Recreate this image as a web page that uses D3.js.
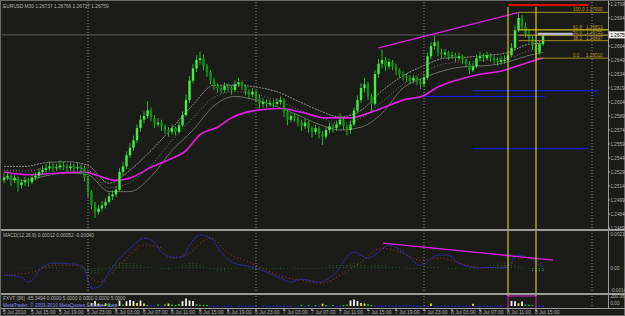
<!DOCTYPE html>
<html>
<head>
<meta charset="utf-8">
<script src="https://cdn.jsdelivr.net/npm/d3@7"></script>
<style>
  html, body { margin: 0; padding: 0; background: #1b1b17; }
  svg { display: block; }
  text { font-family: "Liberation Sans", Arial, sans-serif; }
</style>
</head>
<body>
<svg id="chart" width="625" height="316"></svg>
<script>
// EURUSD M30, 5-8 Jul 2010 (MetaTrader style chart)

const firstOpen = 1.2520;
const barCloses = [
  1.2523,1.2525,1.2520,1.2523,1.2515,1.2518,1.2520,1.2518,1.2523,1.2525,
  1.2529,1.2531,1.2533,1.2535,1.2533,1.2534,1.2536,1.2535,1.2533,1.2535,
  1.2533,1.2534,1.2533,1.2523,1.2508,1.2494,1.2486,1.2490,1.2493,1.2497,
  1.2503,1.2505,1.2510,1.2529,1.2535,1.2547,1.2555,1.2563,1.2576,1.2585,
  1.2589,1.2595,1.2587,1.2580,1.2582,1.2578,1.2574,1.2572,1.2576,1.2572,
  1.2579,1.2590,1.2606,1.2627,1.2640,1.2649,1.2651,1.2642,1.2636,1.2627,
  1.2621,1.2619,1.2617,1.2621,1.2619,1.2617,1.2623,1.2625,1.2621,1.2615,
  1.2612,1.2615,1.2608,1.2602,1.2604,1.2602,1.2603,1.2602,1.2604,1.2606,
  1.2593,1.2585,1.2589,1.2587,1.2582,1.2578,1.2582,1.2576,1.2572,1.2576,
  1.2570,1.2567,1.2574,1.2578,1.2576,1.2580,1.2585,1.2578,1.2574,1.2580,
  1.2595,1.2606,1.2619,1.2623,1.2610,1.2602,1.2634,1.2645,1.2649,1.2642,
  1.2647,1.2642,1.2638,1.2634,1.2631,1.2630,1.2627,1.2630,1.2626,1.2623,
  1.2630,1.2653,1.2664,1.2668,1.2657,1.2655,1.2657,1.2653,1.2654,1.2651,
  1.2653,1.2649,1.2645,1.2638,1.2642,1.2651,1.2653,1.2651,1.2654,1.2651,
  1.2649,1.2647,1.2649,1.2649,1.2654,1.2662,1.2681,1.2694,1.2685,1.2677,
  1.2672,1.2664,1.2657,1.2666,1.2676
];
const barHighs = [
  1.2528,1.2529,1.2527,1.2526,1.2524,1.2521,1.2524,1.2523,1.2526,1.2529,
  1.2533,1.2536,1.2538,1.2541,1.2539,1.2538,1.2542,1.2540,1.2538,1.2539,
  1.2538,1.2539,1.2537,1.2536,1.2525,1.2510,1.2497,1.2494,1.2498,1.2501,
  1.2507,1.2509,1.2514,1.2533,1.2540,1.2551,1.2560,1.2568,1.2580,1.2590,
  1.2594,1.2605,1.2598,1.2590,1.2587,1.2585,1.2580,1.2577,1.2580,1.2578,
  1.2583,1.2594,1.2612,1.2632,1.2645,1.2654,1.2658,1.2655,1.2645,1.2638,
  1.2630,1.2624,1.2622,1.2625,1.2624,1.2622,1.2627,1.2630,1.2627,1.2623,
  1.2618,1.2619,1.2617,1.2612,1.2608,1.2607,1.2607,1.2606,1.2608,1.2610,
  1.2608,1.2596,1.2593,1.2592,1.2590,1.2585,1.2586,1.2584,1.2578,1.2580,
  1.2578,1.2573,1.2577,1.2582,1.2581,1.2584,1.2592,1.2587,1.2580,1.2584,
  1.2598,1.2611,1.2624,1.2630,1.2626,1.2613,1.2638,1.2650,1.2660,1.2652,
  1.2651,1.2649,1.2645,1.2640,1.2637,1.2635,1.2633,1.2633,1.2632,1.2629,
  1.2634,1.2657,1.2668,1.2675,1.2670,1.2661,1.2661,1.2659,1.2658,1.2657,
  1.2657,1.2655,1.2651,1.2647,1.2646,1.2655,1.2658,1.2656,1.2658,1.2656,
  1.2654,1.2652,1.2653,1.2654,1.2658,1.2667,1.2686,1.2700,1.2697,1.2689,
  1.2682,1.2675,1.2667,1.2670,1.2678
];
const barLows = [
  1.2517,1.2520,1.2514,1.2517,1.2508,1.2511,1.2514,1.2513,1.2516,1.2520,
  1.2522,1.2526,1.2528,1.2530,1.2529,1.2530,1.2531,1.2531,1.2529,1.2530,
  1.2529,1.2530,1.2528,1.2519,1.2502,1.2489,1.2480,1.2483,1.2487,1.2490,
  1.2495,1.2499,1.2502,1.2508,1.2525,1.2532,1.2544,1.2552,1.2560,1.2572,
  1.2581,1.2586,1.2583,1.2576,1.2577,1.2573,1.2570,1.2567,1.2569,1.2568,
  1.2570,1.2577,1.2588,1.2603,1.2624,1.2636,1.2644,1.2638,1.2631,1.2623,
  1.2617,1.2614,1.2613,1.2614,1.2615,1.2612,1.2615,1.2620,1.2617,1.2611,
  1.2607,1.2609,1.2604,1.2597,1.2598,1.2598,1.2599,1.2598,1.2599,1.2601,
  1.2588,1.2579,1.2582,1.2583,1.2578,1.2573,1.2575,1.2571,1.2566,1.2569,
  1.2565,1.2558,1.2564,1.2571,1.2571,1.2573,1.2578,1.2574,1.2568,1.2570,
  1.2578,1.2592,1.2603,1.2614,1.2606,1.2594,1.2600,1.2630,1.2640,1.2637,
  1.2639,1.2638,1.2633,1.2630,1.2627,1.2626,1.2623,1.2624,1.2622,1.2618,
  1.2620,1.2628,1.2650,1.2660,1.2653,1.2651,1.2652,1.2649,1.2650,1.2647,
  1.2648,1.2645,1.2641,1.2634,1.2636,1.2640,1.2648,1.2647,1.2649,1.2647,
  1.2645,1.2643,1.2644,1.2645,1.2647,1.2652,1.2660,1.2679,1.2681,1.2673,
  1.2668,1.2660,1.2651,1.2654,1.2664
];

// moving averages read at sample bars
const maBars      = [0,6,12,18,24,30,36,42,48,54,60,66,72,78,84,90,96,102,108,114,120,126,132,138,144,150,154];
const bandUpper   = [1.2535,1.2535,1.2539,1.2540,1.2536,1.2517,1.2531,1.2552,1.2576,1.2601,1.2622,1.2622,1.2620,1.2615,1.2605,1.2595,1.2588,1.2595,1.2616,1.2632,1.2643,1.2651,1.2652,1.2654,1.2657,1.2666,1.2667];
const bandMiddle  = [1.2531,1.2530,1.2533,1.2535,1.2531,1.2512,1.2518,1.2536,1.2563,1.2587,1.2609,1.2615,1.2612,1.2606,1.2596,1.2588,1.2581,1.2587,1.2604,1.2623,1.2636,1.2645,1.2647,1.2649,1.2651,1.2659,1.2662];
const bandLower   = [1.2523,1.2520,1.2525,1.2528,1.2526,1.2508,1.2508,1.2524,1.2552,1.2574,1.2600,1.2610,1.2606,1.2599,1.2590,1.2580,1.2574,1.2577,1.2592,1.2619,1.2630,1.2638,1.2642,1.2643,1.2647,1.2654,1.2657];
const slowMaBars  = [0,7,16,23,27,32,37,42,47,52,56,61,65,72,79,85,92,99,104,109,114,120,124,129,135,143,147,152,154];
const slowMa      = [1.2529,1.2526,1.2528,1.2529,1.2525,1.2520,1.2524,1.2534,1.2542,1.2552,1.2569,1.2577,1.2587,1.2595,1.2597,1.2593,1.2587,1.2587,1.2592,1.2599,1.2606,1.2611,1.2620,1.2627,1.2633,1.2638,1.2643,1.2649,1.2651];

// MACD(12,26,9) read at sample bars
const macdMainBars = [0,5,7,11,14,20,23,24,25,27,30,34,37,40,43,45,48,51,53,56,59,62,65,71,75,79,82,85,90,94,100,104,107,110,114,119,124,127,130,136,139,143,147,150,153,154];
const macdMain     = [-0.00045,-0.00058,-0.00090,0.00006,0.00032,0.00026,0.00000,-0.00077,-0.00129,-0.00122,-0.00026,0.00084,0.00148,0.00193,0.00167,0.00103,0.00071,0.00071,0.00148,0.00213,0.00193,0.00103,0.00039,0.00006,-0.00026,-0.00064,-0.00090,-0.00071,-0.00090,-0.00045,0.00103,0.00064,0.00103,0.00148,0.00103,0.00019,0.00084,0.00084,0.00032,0.00000,0.00006,0.00000,0.00084,0.00064,0.00019,0.00013];
const macdSigBars  = [0,8,14,21,27,33,40,45,48,52,59,64,70,75,81,85,91,96,102,108,113,119,125,132,138,144,149,154];
const macdSignal   = [-0.00045,-0.00026,0.00019,0.00019,-0.00090,0.00019,0.00148,0.00129,0.00064,0.00084,0.00193,0.00097,0.00039,-0.00013,-0.00064,-0.00077,-0.00097,-0.00045,0.00039,0.00129,0.00103,0.00052,0.00064,0.00019,0.00000,0.00019,0.00071,0.00019];
// histogram, in units of 0.00001
const macdHist = [
  0,1,1,-2,-3,-2,-2,-4,-3,-1, 3,6,8,9,8,6,4,3,2,1,
  0,-2,-5,-12,-25,-35,-38,-30,-22,-10, 6,18,26,32,36,38,35,30,24,18,
  14,10,6,2,-2,-6,-8,-6,-2,2, 8,18,28,34,38,34,26,16,6,-4,
  -12,-18,-20,-18,-14,-10,-6,-3,-2,-4, -6,-8,-8,-10,-8,-6,-4,-6,-8,-6,
  -4,-3,-2,-4,-6,-4,-2,-4,-6,-4, -2,4,12,20,26,26,22,18,24,30,
  34,32,26,18,14,16,22,26,24,18, 14,10,6,4,0,-4,-6,-8,-6,-4,
  2,8,12,10,6,2,-2,-4,-6,-6, -4,-6,-8,-6,-4,-2,0,4,10,18,
  24,28,30,32,34,30,24,16,8,0, -8,-18,-26,-24,-20
];

// FXVT pane values per bar
const fxvValues = [
  0,0,0,0,0,0,0,0,0,0, 0,0,0,0,0,0,0,0,0,0,
  0,0,0,0,0,60,100,50,30,55, 40,20,25,110,30,95,120,100,60,110,
  50,20,10,15,30,10,35,50,30,20, 40,95,150,110,100,35,25,22,20,12,
  8,8,0,8,8,8,0,8,8,8, 8,8,8,0,8,8,8,8,8,8,
  8,8,8,0,8,20,8,22,8,20, 8,45,20,8,22,8,8,20,30,110,
  130,100,60,50,35,20,12,8,8,8, 8,8,12,12,14,12,14,12,12,8,
  8,8,50,10,8,8,8,8,8,8, 8,8,8,8,45,8,8,8,8,8,
  8,8,8,0,12,100,95,55,90,30, 25,22,8,8,8
];

const timeLabels = ["5 Jul 2010","5 Jul 15:00","5 Jul 19:00","5 Jul 23:00","6 Jul 03:00","6 Jul 07:00","6 Jul 11:00","6 Jul 15:00","6 Jul 19:00","6 Jul 23:00","7 Jul 03:00","7 Jul 07:00","7 Jul 11:00","7 Jul 15:00","7 Jul 19:00","7 Jul 23:00","8 Jul 03:00","8 Jul 07:00","8 Jul 11:00","8 Jul 15:00"];
const priceTicks = [1.27090,1.26940,1.26790,1.26640,1.26490,1.26340,1.26190,1.26040,1.25890,1.25740,1.25590,1.25440,1.25290,1.25140,1.24990,1.24840,1.24690];
const daySeparators = [24, 72, 120, 168];

// drawn objects
const bidPrice = 1.26759;
const fibHigh = { bar: 147, price: 1.2700 };
const fibLow  = { bar: 152, price: 1.2651 };
const fibLevels = [100.0, 61.8, 50.0, 38.2, 0.0];
const channelLine = [[107, 1.2662], [147, 1.2700]];
const macdTrend = [[108.3, 0.00161], [156.9, 0.00052]];
const blueLines = [[134, 170, 1.2616], [120, 154.6, 1.2610], [134, 167, 1.2554]];
const redLine = [144, 167, 1.2708];
const vLines = [144, 152];

// ---- layout ----
const axisX = 608;
const svg = d3.select('#chart');
svg.append('rect').attr('width', 625).attr('height', 316).attr('fill', '#1b1b17');

const x = d3.scaleLinear().domain([0, 1]).range([4, 7.5]);
const yPrice = d3.scaleLinear().domain([1.2469, 1.2709]).range([228, 4]);
const yMacd = d3.scaleLinear().domain([-0.0014, 0.00219]).range([290, 234]);
const yFxv = d3.scaleLinear().domain([0, 200]).range([306, 296]);

const defs = svg.append('defs');
function clip(id, y0, y1) {
  defs.append('clipPath').attr('id', id).append('rect')
    .attr('x', 2).attr('y', y0).attr('width', axisX - 2).attr('height', y1 - y0);
  return svg.append('g').attr('clip-path', `url(#${id})`);
}
const mainG = clip('cMain', 2, 229);
const macdG = clip('cMacd', 232, 293);
const fxvG = clip('cFxv', 295, 308);

const grey = '#b4b4b4';

// day separators (dotted)
svg.append('g').selectAll('line').data(daySeparators).enter().append('line')
  .attr('x1', d => x(d)).attr('x2', d => x(d))
  .attr('y1', 2).attr('y2', 308)
  .attr('stroke', '#8a8a8a').attr('stroke-width', 1).attr('stroke-dasharray', '1,2');

// bid line
mainG.append('line')
  .attr('x1', 2).attr('x2', axisX).attr('y1', yPrice(bidPrice)).attr('y2', yPrice(bidPrice))
  .attr('stroke', '#5e5e5e').attr('stroke-width', 1);

// blue horizontal lines
mainG.selectAll('line.blue').data(blueLines).enter().append('line')
  .attr('class', 'blue')
  .attr('x1', d => x(d[0])).attr('x2', d => x(d[1]))
  .attr('y1', d => yPrice(d[2])).attr('y2', d => yPrice(d[2]))
  .attr('stroke', '#1a1aff').attr('stroke-width', 1);

// moving average bands
function band(values, color, dash, width) {
  mainG.append('path')
    .datum(maBars.map((b, k) => [b, values[k]]))
    .attr('d', d3.line().x(d => x(d[0])).y(d => yPrice(d[1])).curve(d3.curveMonotoneX))
    .attr('fill', 'none').attr('stroke', color).attr('stroke-width', width)
    .attr('stroke-dasharray', dash);
}
band(bandLower, '#6c6c6c', null, 1);
band(bandMiddle, '#7a7a7a', '1,2', 1);
band(bandUpper, '#8e8e8e', '2,1', 1);

mainG.append('path')
  .datum(slowMaBars.map((b, k) => [b, slowMa[k]]))
  .attr('d', d3.line().x(d => x(d[0])).y(d => yPrice(d[1])).curve(d3.curveMonotoneX))
  .attr('fill', 'none').attr('stroke', '#e41ee4').attr('stroke-width', 1.6);

// candles
const bars = barCloses.map((c, i) => ({
  i, c, h: barHighs[i], l: barLows[i], o: i === 0 ? firstOpen : barCloses[i - 1]
}));
mainG.selectAll('line.wick').data(bars).enter().append('line')
  .attr('class', 'wick')
  .attr('x1', d => x(d.i)).attr('x2', d => x(d.i))
  .attr('y1', d => yPrice(d.h)).attr('y2', d => yPrice(d.l))
  .attr('stroke', '#22b822').attr('stroke-width', 1);
mainG.selectAll('rect.body').data(bars).enter().append('rect')
  .attr('class', 'body')
  .attr('x', d => x(d.i) - 1.2).attr('width', 2.4)
  .attr('y', d => yPrice(Math.max(d.o, d.c)))
  .attr('height', d => Math.max(1, Math.abs(yPrice(d.o) - yPrice(d.c))))
  .attr('fill', d => d.c >= d.o ? '#44ee44' : '#138f13');

// upper channel line
mainG.append('line')
  .attr('x1', x(channelLine[0][0])).attr('y1', yPrice(channelLine[0][1]))
  .attr('x2', x(channelLine[1][0])).attr('y2', yPrice(channelLine[1][1]))
  .attr('stroke', '#e020e0').attr('stroke-width', 1.2);

// fibonacci retracement
const fibPrice = lv => fibLow.price + (fibHigh.price - fibLow.price) * lv / 100;
const fibG = mainG.append('g');
fibG.selectAll('line').data(fibLevels).enter().append('line')
  .attr('x1', d => x(d === 0 ? fibLow.bar : fibHigh.bar)).attr('x2', axisX)
  .attr('y1', d => yPrice(fibPrice(d))).attr('y2', d => yPrice(fibPrice(d)))
  .attr('stroke', d => d === 61.8 ? '#f2e21a' : '#a88c1e').attr('stroke-width', 1);
fibG.selectAll('text.lv').data(fibLevels).enter().append('text')
  .attr('x', axisX - 35).attr('y', d => yPrice(fibPrice(d)) - 1)
  .attr('font-size', 4.6).attr('fill', '#b8982e')
  .text(d => d.toFixed(1));
fibG.selectAll('text.pr').data(fibLevels).enter().append('text')
  .attr('x', axisX - 22).attr('y', d => yPrice(fibPrice(d)) - 1)
  .attr('font-size', 4.6).attr('fill', '#b8982e')
  .text(d => fibPrice(d).toFixed(5));

// light marker at the bid
mainG.append('line')
  .attr('x1', x(152.5)).attr('x2', x(162.5))
  .attr('y1', yPrice(bidPrice) - 1).attr('y2', yPrice(bidPrice) - 1)
  .attr('stroke', '#b8b8c8').attr('stroke-width', 2.5);

// red line at top
mainG.append('line')
  .attr('x1', x(redLine[0])).attr('x2', x(redLine[1]))
  .attr('y1', yPrice(redLine[2])).attr('y2', yPrice(redLine[2]))
  .attr('stroke', '#e00000').attr('stroke-width', 2);

// ---- MACD pane ----
macdG.selectAll('line.hist').data(macdHist).enter().append('line')
  .attr('class', 'hist')
  .attr('x1', (d, i) => x(i)).attr('x2', (d, i) => x(i))
  .attr('y1', yMacd(0)).attr('y2', d => yMacd(d * 0.00001))
  .attr('stroke', (d, i) => i > 150 ? '#2fbf2f' : '#1f6a1f').attr('stroke-width', 1)
  .attr('stroke-dasharray', '1,1');

macdG.append('path')
  .datum(macdSigBars.map((b, k) => [b, macdSignal[k]]))
  .attr('d', d3.line().x(d => x(d[0])).y(d => yMacd(d[1])).curve(d3.curveMonotoneX))
  .attr('fill', 'none').attr('stroke', '#a83a22').attr('stroke-width', 1)
  .attr('stroke-dasharray', '1,2.5');
macdG.append('path')
  .datum(macdMainBars.map((b, k) => [b, macdMain[k]]))
  .attr('d', d3.line().x(d => x(d[0])).y(d => yMacd(d[1])).curve(d3.curveMonotoneX))
  .attr('fill', 'none').attr('stroke', '#3030e8').attr('stroke-width', 1)
  .attr('stroke-dasharray', '1.5,1');
macdG.append('line')
  .attr('x1', x(macdTrend[0][0])).attr('y1', yMacd(macdTrend[0][1]))
  .attr('x2', x(macdTrend[1][0])).attr('y2', yMacd(macdTrend[1][1]))
  .attr('stroke', '#e020e0').attr('stroke-width', 1.3);

// ---- FXVT pane ----
const fxvColor = v => v >= 90 ? '#f2f2f2' : v >= 45 ? '#e6e61e' : v >= 18 ? '#22c422' : '#2424ff';
fxvG.selectAll('rect.fxv').data(fxvValues.map((v, i) => ({ v, i })).filter(d => d.v > 0))
  .enter().append('rect')
  .attr('class', 'fxv')
  .attr('x', d => x(d.i) - 0.9).attr('width', 1.8)
  .attr('y', d => yFxv(d.v)).attr('height', d => Math.max(1.2, yFxv(0) - yFxv(d.v)))
  .attr('fill', d => fxvColor(d.v));
fxvG.append('rect')
  .attr('x', x(vLines[0])).attr('width', x(vLines[1]) - x(vLines[0]))
  .attr('y', yFxv(200)).attr('height', yFxv(-60) - yFxv(200))
  .attr('fill', 'none').attr('stroke', '#d21ed2').attr('stroke-width', 1);

// vertical yellow lines through the panes
svg.selectAll('line.vl').data(vLines).enter().append('line')
  .attr('class', 'vl')
  .attr('x1', d => x(d)).attr('x2', d => x(d))
  .attr('y1', 7).attr('y2', yFxv(200))
  .attr('stroke', '#eaea22').attr('stroke-width', 1);

// ---- frames and separators ----
svg.append('rect').attr('x', 0.5).attr('y', 0.5).attr('width', 624).attr('height', 315)
  .attr('fill', 'none').attr('stroke', '#6a6a6a');
[[229, 231], [293, 295]].forEach(([a, b]) => {
  svg.append('rect').attr('x', 1).attr('y', a).attr('width', 624).attr('height', b - a)
    .attr('fill', '#9a9a9a');
});
svg.append('line').attr('x1', 1).attr('x2', 625).attr('y1', 308.5).attr('y2', 308.5)
  .attr('stroke', '#9a9a9a');
svg.append('line').attr('x1', axisX + 0.5).attr('x2', axisX + 0.5).attr('y1', 1).attr('y2', 309)
  .attr('stroke', '#9a9a9a');

// price axis (the label under the bid box is hidden, as in the terminal)
const visibleTicks = priceTicks.filter(p => Math.abs(yPrice(p) - yPrice(bidPrice)) > 5);
svg.selectAll('text.pt').data(visibleTicks).enter().append('text')
  .attr('class', 'pt')
  .attr('x', axisX + 2.5).attr('y', d => yPrice(d) + 2)
  .attr('font-size', 4.6).attr('fill', grey)
  .text(d => d.toFixed(5));
svg.selectAll('line.ptk').data(priceTicks).enter().append('line')
  .attr('class', 'ptk')
  .attr('x1', axisX).attr('x2', axisX + 2).attr('y1', d => yPrice(d)).attr('y2', d => yPrice(d))
  .attr('stroke', grey);

// bid box
svg.append('rect').attr('x', axisX + 1).attr('y', yPrice(bidPrice) - 3.5)
  .attr('width', 17).attr('height', 7).attr('fill', '#f0f0f0');
svg.append('text').attr('x', axisX + 2.5).attr('y', yPrice(bidPrice) + 2)
  .attr('font-size', 4.6).attr('fill', '#000').text(bidPrice.toFixed(5));

// macd axis
[[0.00219, '0.00219'], [0, '0.00'], [-0.0014, '-0.00140']].forEach(([v, t]) => {
  svg.append('text').attr('x', axisX + 2.5).attr('y', yMacd(v) + 2)
    .attr('font-size', 4.6).attr('fill', grey).text(t);
});
// fxv axis
[[200, '200.0613'], [60, '0.00']].forEach(([v, t]) => {
  svg.append('text').attr('x', axisX + 2.5).attr('y', yFxv(v) + 2)
    .attr('font-size', 4.6).attr('fill', grey).text(t);
});

// time axis
const tG = svg.append('g');
tG.selectAll('line').data(timeLabels).enter().append('line')
  .attr('x1', (d, k) => x(8 * k)).attr('x2', (d, k) => x(8 * k))
  .attr('y1', 308.5).attr('y2', 311).attr('stroke', grey);
tG.selectAll('text').data(timeLabels).enter().append('text')
  .attr('x', (d, k) => x(8 * k) - 1).attr('y', 314)
  .attr('font-size', 5).attr('fill', grey)
  .text(d => d);

// pane captions
svg.append('text').attr('x', 3).attr('y', 7.5).attr('font-size', 4.8).attr('fill', grey)
  .text('EURUSD,M30  1.26737 1.26766 1.26737 1.26759');
svg.append('text').attr('x', 3).attr('y', 237).attr('font-size', 4.8).attr('fill', grey)
  .text('MACD(12,26,9) 0.00012 0.00052 -0.00040');
svg.append('text').attr('x', 3).attr('y', 300).attr('font-size', 4.8).attr('fill', grey)
  .text('FXVT (96) -65.3494 0.0000 5.0000 0.0000 0.0000 5.0000');
svg.append('text').attr('x', 3).attr('y', 306.5).attr('font-size', 4.8).attr('fill', '#8a8aff')
  .text('MetaTrader, \u00a9 2001-2010 MetaQuotes Software Corp.');
</script>
</body>
</html>
